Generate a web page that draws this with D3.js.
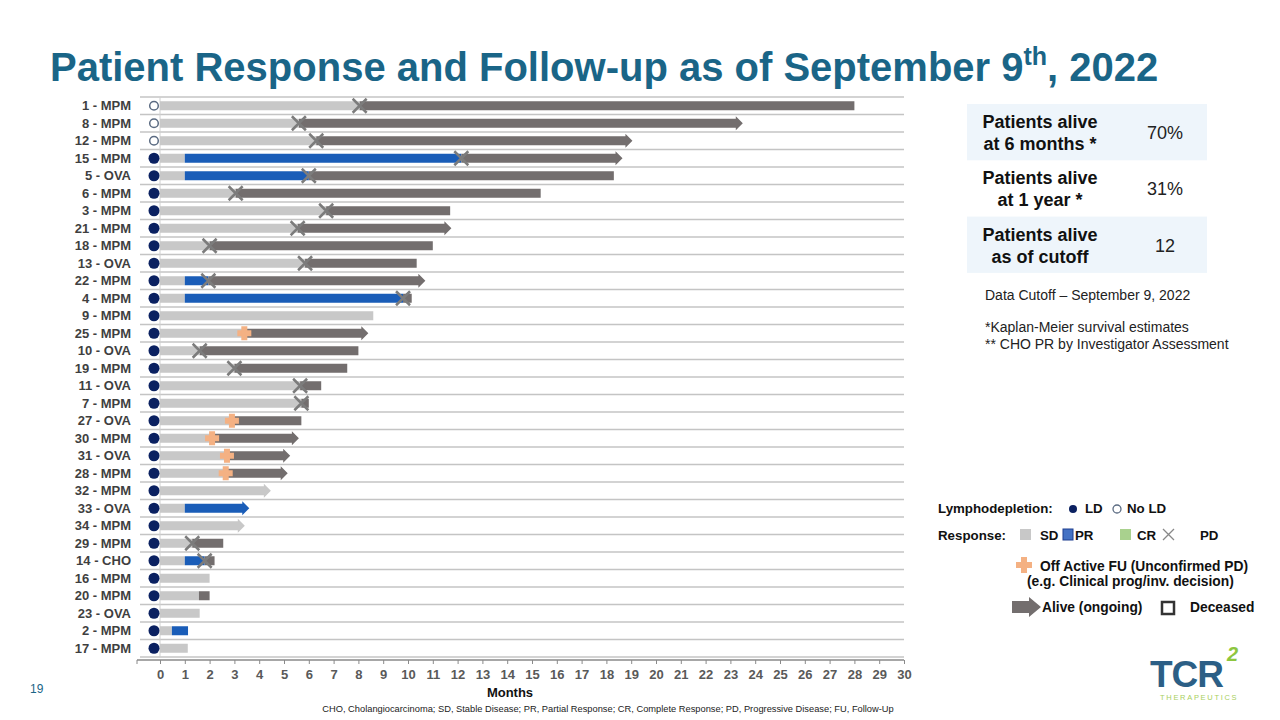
<!DOCTYPE html>
<html>
<head>
<meta charset="utf-8">
<script src="https://cdn.jsdelivr.net/npm/d3@7"></script>
<style>
  body { margin: 0; background: #fff; }
  svg { font-family: "Liberation Sans", Arial, sans-serif; }
</style>
</head>
<body>
<svg id="chart" width="1280" height="720"></svg>
<script>
// patients top to bottom
const patients = ["1 - MPM", "8 - MPM", "12 - MPM", "15 - MPM", "5 - OVA", "6 - MPM", "3 - MPM", "21 - MPM",
    "18 - MPM", "13 - OVA", "22 - MPM", "4 - MPM", "9 - MPM", "25 - MPM", "10 - OVA", "19 - MPM", "11 - OVA",
    "7 - MPM", "27 - OVA", "30 - MPM", "31 - OVA", "28 - MPM", "32 - MPM", "33 - OVA", "34 - MPM", "29 - MPM",
    "14 - CHO", "16 - MPM", "20 - MPM", "23 - OVA", "2 - MPM", "17 - MPM"];
// lymphodepletion: 1 = LD, 0 = no LD
const lymphodepletion = [0, 0, 0, 1, 1, 1, 1, 1, 1, 1, 1, 1, 1, 1, 1, 1, 1, 1, 1, 1, 1, 1, 1, 1, 1, 1, 1, 1, 1, 1, 1, 1];
// months
const sdEnd = [8.05, 5.6, 6.3, 1, 1, 3.05, 6.7, 5.55, 2.0, 5.85, 1, 1, 8.6, 3.4, 1.6, 3.0, 5.65, 5.7, 2.9, 2.1,
    2.7, 2.65, 4.47, 1, 3.42, 1.3, 1, 2.0, 1.57, 1.6, 0.48, 1.12];
const prEnd = [null, null, null, 12.15, 6.0, null, null, null, null, null, 1.95, 9.8, null, null, null, null, null,
    null, null, null, null, null, null, 3.6, null, null, 1.8, null, null, null, 1.13, null];
const followEnd = [28.0, 23.5, 19.05, 18.65, 18.3, 15.35, 11.7, 11.75, 11.0, 10.35, 10.7, 10.15, null, 8.4, 8.0,
    7.55, 6.5, 6.0, 5.7, 5.6, 5.25, 5.15, null, null, null, 2.55, 2.2, null, 2.0, null, null, null];
const pdAt = [8.05, 5.6, 6.3, 12.15, 6.0, 3.05, 6.7, 5.55, 2.0, 5.85, 1.95, 9.8, null, null, 1.6, 3.0, 5.65, 5.7,
    null, null, null, null, null, null, null, 1.3, 1.8, null, null, null, null, null];
const offFuAt = [null, null, null, null, null, null, null, null, null, null, null, null, null, 3.4, null, null, null,
    null, 2.9, 2.1, 2.7, 2.65, null, null, null, null, null, null, null, null, null, null];
const alive = [0, 1, 1, 1, 0, 0, 0, 1, 0, 0, 1, 0, 0, 1, 0, 0, 0, 0, 0, 1, 1, 1, 1, 1, 1, 0, 0, 0, 0, 0, 0, 0];

const monthTicks = d3.range(0, 31);

const tableRows = [
    { label: ["Patients alive", "at 6 months *"], value: "70%" },
    { label: ["Patients alive", "at 1 year *"], value: "31%" },
    { label: ["Patients alive", "as of cutoff"], value: "12" },
];

const SD = "#c8c8c8", PR = "#1a5db8", DARK = "#736e6e", XCOL = "#7c7c7c", FU = "#f4b183", NAVY = "#0b2161";

const svg = d3.select("#chart");

// title
const title = svg.append("text").attr("x", 50).attr("y", 81).attr("fill", "#1a6587")
    .attr("font-size", 40).attr("font-weight", "bold");
title.append("tspan").text("Patient Response and Follow-up as of September 9");
title.append("tspan").text("th").attr("font-size", 25).attr("dy", -16);
title.append("tspan").text(", 2022").attr("dy", 16);

const x = d3.scaleLinear().domain([0, 30]).range([160, 904]);
const y = d3.scaleBand().domain(patients).range([97, 657]);

const rows = patients.map((p, i) => ({
    name: p, ld: lymphodepletion[i], sd: sdEnd[i], pr: prEnd[i], fe: followEnd[i],
    pd: pdAt[i], fu: offFuAt[i], alive: alive[i]
}));

// grid lines
const g = svg.append("g");
g.selectAll(".grid").data(d3.range(patients.length + 1)).enter().append("line")
    .attr("x1", 140).attr("x2", 904)
    .attr("y1", (d) => 97 + d * y.step()).attr("y2", (d) => 97 + d * y.step())
    .attr("stroke", "#c4c4c4").attr("stroke-width", 1.5);

g.append("line").attr("x1", x(0)).attr("x2", x(0)).attr("y1", 97).attr("y2", 657)
    .attr("stroke", "#d0d0d0").attr("stroke-width", 1);

// y labels
g.selectAll(".lbl").data(rows).enter().append("text")
    .attr("x", 131).attr("y", (d) => y(d.name) + y.step() / 2 + 4.5)
    .attr("text-anchor", "end").attr("font-size", 13).attr("font-weight", "bold")
    .attr("fill", "#3f3f3f").text((d) => d.name);

const BH = 9, HEAD = 7, HH = 7;

function bar(sel, x0, x1, cy, color, arrow) {
    const a = x(x0), b = x(x1);
    if (!arrow) {
        sel.append("rect").attr("x", a).attr("y", cy - BH / 2).attr("width", b - a).attr("height", BH)
            .attr("fill", color);
    } else {
        const s = b - HEAD;
        sel.append("path")
            .attr("d", `M${a},${cy - BH / 2}H${s}V${cy - HH}L${b},${cy}L${s},${cy + HH}V${cy + BH / 2}H${a}Z`)
            .attr("fill", color);
    }
}

rows.forEach((d) => {
    const cy = y(d.name) + y.step() / 2;
    const r = g.append("g");
    const lastIsSd = d.pr == null && d.fe == null;
    const lastIsPr = d.pr != null && d.fe == null;
    bar(r, 0, d.sd, cy, SD, d.alive && lastIsSd);
    if (d.pr != null) bar(r, d.sd, d.pr, cy, PR, d.alive && lastIsPr);
    if (d.fe != null) {
        const start = d.pr != null ? d.pr : d.sd;
        bar(r, start, d.fe, cy, DARK, d.alive);
    }
    if (d.pd != null) {
        const px = x(d.pd), s = 7;
        r.append("path").attr("d", `M${px - s},${cy - s}L${px + s},${cy + s}M${px - s},${cy + s}L${px + s},${cy - s}`)
            .attr("stroke", XCOL).attr("stroke-width", 2.5).attr("fill", "none");
    }
    if (d.fu != null) {
        const px = x(d.fu);
        r.append("rect").attr("x", px - 7).attr("y", cy - 3).attr("width", 14).attr("height", 6).attr("fill", FU);
        r.append("rect").attr("x", px - 3).attr("y", cy - 7).attr("width", 6).attr("height", 14).attr("fill", FU);
    }
    if (d.ld) {
        r.append("circle").attr("cx", 154).attr("cy", cy).attr("r", 5.5).attr("fill", NAVY);
    } else {
        r.append("circle").attr("cx", 154).attr("cy", cy).attr("r", 4.3).attr("fill", "#fff")
            .attr("stroke", "#5b6b82").attr("stroke-width", 1.5);
    }
});

// x axis
const axis = svg.append("g").attr("transform", "translate(0,660)")
    .call(d3.axisBottom(x).tickValues(monthTicks).tickSize(4).tickPadding(6).tickSizeOuter(0));
axis.select(".domain").remove();
axis.append("line").attr("x1", 137).attr("x2", 904).attr("stroke", "#8a8a8a").attr("stroke-width", 1.5);
axis.append("line").attr("x1", 137).attr("x2", 137).attr("y2", 4).attr("stroke", "#8a8a8a");
axis.selectAll(".tick line").attr("stroke", "#8a8a8a");
axis.selectAll(".tick text").attr("font-size", 13).attr("font-weight", "bold").attr("fill", "#595959")
    .attr("font-family", "Liberation Sans, Arial, sans-serif");

svg.append("text").attr("x", 510).attr("y", 697).attr("text-anchor", "middle").attr("font-size", 13)
    .attr("font-weight", "bold").attr("fill", "#111").text("Months");
svg.append("text").attr("x", 608).attr("y", 712).attr("text-anchor", "middle").attr("font-size", 9.3)
    .attr("fill", "#222")
    .text("CHO, Cholangiocarcinoma; SD, Stable Disease; PR, Partial Response; CR, Complete Response; PD, Progressive Disease; FU, Follow-Up");
svg.append("text").attr("x", 30).attr("y", 693).attr("font-size", 12).attr("fill", "#1a6587").text("19");

// table
const t = svg.append("g");
tableRows.forEach((row, i) => {
    const top = 104 + i * 56.3;
    if (i !== 1) t.append("rect").attr("x", 967).attr("y", top).attr("width", 240).attr("height", 56.3).attr("fill", "#eef5fb");
    row.label.forEach((ln, j) => {
        t.append("text").attr("x", 1040).attr("y", top + 24 + j * 22).attr("text-anchor", "middle")
            .attr("font-size", 18).attr("font-weight", "bold").attr("fill", "#111").text(ln);
    });
    t.append("text").attr("x", 1165).attr("y", top + 35).attr("text-anchor", "middle")
        .attr("font-size", 18).attr("fill", "#222").text(row.value);
});
const notes = [["Data Cutoff \u2013 September 9, 2022", 300], ["*Kaplan-Meier survival estimates", 332],
    ["** CHO PR by Investigator Assessment", 349]];
notes.forEach((n) => {
    t.append("text").attr("x", 985).attr("y", n[1]).attr("font-size", 14).attr("fill", "#222").text(n[0]);
});

// legend
const lg = svg.append("g").attr("font-size", 13.8).attr("font-weight", "bold").attr("fill", "#111");
lg.append("text").attr("x", 938).attr("y", 513).attr("font-size", 13.3).text("Lymphodepletion:");
lg.append("circle").attr("cx", 1073).attr("cy", 509).attr("r", 4).attr("fill", NAVY);
lg.append("text").attr("x", 1085).attr("y", 513).attr("font-size", 13.3).text("LD");
lg.append("circle").attr("cx", 1117).attr("cy", 509).attr("r", 4).attr("fill", "#fff").attr("stroke", "#5b6b82").attr("stroke-width", 1.3);
lg.append("text").attr("x", 1127).attr("y", 513).attr("font-size", 13.3).text("No LD");

lg.append("text").attr("x", 938).attr("y", 540).attr("font-size", 13.3).text("Response:");
lg.append("rect").attr("x", 1020).attr("y", 529).attr("width", 11).attr("height", 11).attr("fill", SD);
lg.append("text").attr("x", 1040).attr("y", 540).attr("font-size", 13.3).text("SD");
lg.append("rect").attr("x", 1063).attr("y", 529).attr("width", 10).attr("height", 11).attr("fill", "#4472c4")
    .attr("stroke", "#1f3f8f").attr("stroke-width", 1);
lg.append("text").attr("x", 1075).attr("y", 540).attr("font-size", 13.3).text("PR");
lg.append("rect").attr("x", 1120).attr("y", 529).attr("width", 11).attr("height", 11).attr("fill", "#a9d18e");
lg.append("text").attr("x", 1137).attr("y", 540).attr("font-size", 13.3).text("CR");
lg.append("path").attr("d", "M1163,529L1174,540M1163,540L1174,529").attr("stroke", "#888").attr("stroke-width", 1.3);
lg.append("text").attr("x", 1200).attr("y", 540).attr("font-size", 13.3).text("PD");

lg.append("rect").attr("x", 1016).attr("y", 562).attr("width", 16).attr("height", 6).attr("fill", FU);
lg.append("rect").attr("x", 1021).attr("y", 557).attr("width", 6).attr("height", 16).attr("fill", FU);
lg.append("text").attr("x", 1040).attr("y", 571).text("Off Active FU (Unconfirmed PD)");
lg.append("text").attr("x", 1027).attr("y", 586).text("(e.g. Clinical prog/inv. decision)");

lg.append("path").attr("d", "M1012,601H1029V597L1041,607L1029,617V613H1012Z").attr("fill", DARK);
lg.append("text").attr("x", 1042).attr("y", 612).text("Alive (ongoing)");
lg.append("rect").attr("x", 1162).attr("y", 602).attr("width", 12).attr("height", 12).attr("fill", "none")
    .attr("stroke", "#333").attr("stroke-width", 2.5);
lg.append("text").attr("x", 1190).attr("y", 612).text("Deceased");

// logo
const logo = svg.append("g");
logo.append("text").attr("x", 1150).attr("y", 687).attr("font-size", 37).attr("font-weight", "bold")
    .attr("fill", "#2c5f86").attr("letter-spacing", -1).text("TCR");
logo.append("text").attr("x", 1227).attr("y", 661).attr("font-size", 20).attr("font-weight", "bold")
    .attr("font-style", "italic").attr("fill", "#8dc63f").text("2");
logo.append("text").attr("x", 1160).attr("y", 700).attr("font-size", 7.5).attr("letter-spacing", 1.7)
    .attr("fill", "#a8cf60").text("THERAPEUTICS");
</script>
</body>
</html>
